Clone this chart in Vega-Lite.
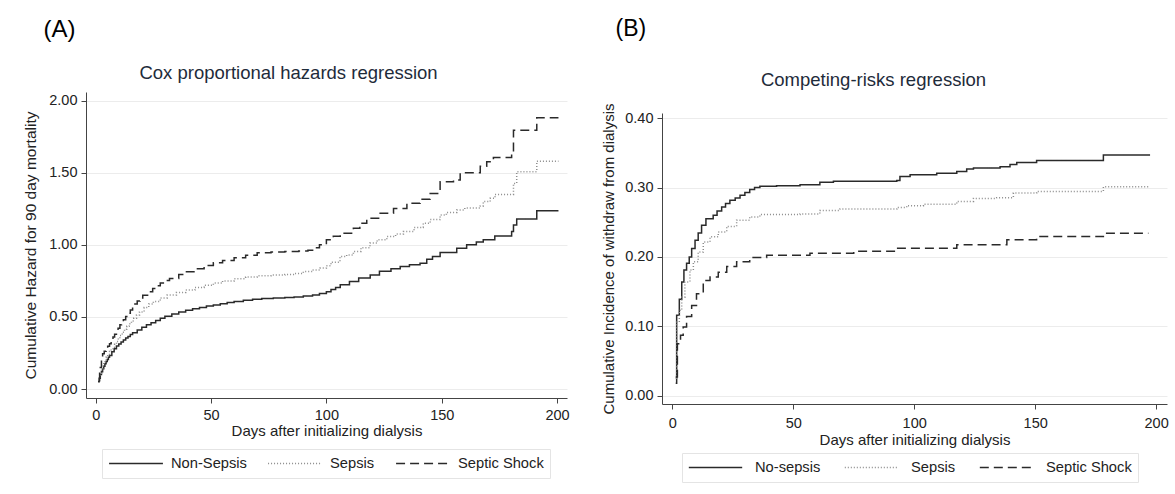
{
  "$schema": "https://vega.github.io/schema/vega-lite/v6.json",
  "autosize": {"type": "none"},
  "padding": {"left": 86, "top": 92, "right": 1089, "bottom": 402},
  "background": "white",
  "bounds": "flush",
  "spacing": 95,
  "resolve": {
    "scale": {"color": "independent", "strokeDash": "independent", "x": "independent", "y": "independent"},
    "legend": {"color": "independent", "strokeDash": "independent"}
  },
  "config": {
    "font": "Liberation Sans",
    "view": {"stroke": null},
    "axis": {
      "labelFont": "Liberation Sans",
      "titleFont": "Liberation Sans",
      "labelColor": "#222222",
      "titleColor": "#222222",
      "tickColor": "#444444",
      "domainColor": "#444444",
      "titleFontWeight": "normal",
      "labelFontSize": 14.5,
      "titleFontSize": 15
    }
  },
  "datasets": {
    "cox": [
      {"group": "Non-Sepsis", "day": 1, "value": 0.05},
      {"group": "Non-Sepsis", "day": 1.5, "value": 0.075},
      {"group": "Non-Sepsis", "day": 2, "value": 0.1},
      {"group": "Non-Sepsis", "day": 2.5, "value": 0.12},
      {"group": "Non-Sepsis", "day": 3, "value": 0.14},
      {"group": "Non-Sepsis", "day": 3.5, "value": 0.158},
      {"group": "Non-Sepsis", "day": 4, "value": 0.175},
      {"group": "Non-Sepsis", "day": 4.5, "value": 0.19},
      {"group": "Non-Sepsis", "day": 5, "value": 0.205},
      {"group": "Non-Sepsis", "day": 5.5, "value": 0.22},
      {"group": "Non-Sepsis", "day": 6, "value": 0.233},
      {"group": "Non-Sepsis", "day": 7, "value": 0.258},
      {"group": "Non-Sepsis", "day": 8, "value": 0.28},
      {"group": "Non-Sepsis", "day": 9, "value": 0.298},
      {"group": "Non-Sepsis", "day": 10, "value": 0.312},
      {"group": "Non-Sepsis", "day": 11, "value": 0.326},
      {"group": "Non-Sepsis", "day": 12, "value": 0.34},
      {"group": "Non-Sepsis", "day": 13, "value": 0.353},
      {"group": "Non-Sepsis", "day": 14, "value": 0.365},
      {"group": "Non-Sepsis", "day": 15, "value": 0.378},
      {"group": "Non-Sepsis", "day": 16, "value": 0.39},
      {"group": "Non-Sepsis", "day": 18, "value": 0.41},
      {"group": "Non-Sepsis", "day": 20, "value": 0.428},
      {"group": "Non-Sepsis", "day": 22, "value": 0.446},
      {"group": "Non-Sepsis", "day": 24, "value": 0.46},
      {"group": "Non-Sepsis", "day": 26, "value": 0.475},
      {"group": "Non-Sepsis", "day": 28, "value": 0.49},
      {"group": "Non-Sepsis", "day": 30, "value": 0.505},
      {"group": "Non-Sepsis", "day": 33, "value": 0.52},
      {"group": "Non-Sepsis", "day": 36, "value": 0.535},
      {"group": "Non-Sepsis", "day": 39, "value": 0.547},
      {"group": "Non-Sepsis", "day": 42, "value": 0.557},
      {"group": "Non-Sepsis", "day": 45, "value": 0.566},
      {"group": "Non-Sepsis", "day": 48, "value": 0.575},
      {"group": "Non-Sepsis", "day": 51, "value": 0.583},
      {"group": "Non-Sepsis", "day": 54, "value": 0.592},
      {"group": "Non-Sepsis", "day": 57, "value": 0.6},
      {"group": "Non-Sepsis", "day": 60, "value": 0.607},
      {"group": "Non-Sepsis", "day": 64, "value": 0.615},
      {"group": "Non-Sepsis", "day": 68, "value": 0.622},
      {"group": "Non-Sepsis", "day": 72, "value": 0.628},
      {"group": "Non-Sepsis", "day": 77, "value": 0.631},
      {"group": "Non-Sepsis", "day": 82, "value": 0.635},
      {"group": "Non-Sepsis", "day": 86, "value": 0.638},
      {"group": "Non-Sepsis", "day": 90, "value": 0.645},
      {"group": "Non-Sepsis", "day": 94, "value": 0.652},
      {"group": "Non-Sepsis", "day": 97, "value": 0.662},
      {"group": "Non-Sepsis", "day": 100, "value": 0.675},
      {"group": "Non-Sepsis", "day": 102, "value": 0.69},
      {"group": "Non-Sepsis", "day": 104, "value": 0.705},
      {"group": "Non-Sepsis", "day": 106, "value": 0.724},
      {"group": "Non-Sepsis", "day": 110, "value": 0.745},
      {"group": "Non-Sepsis", "day": 114, "value": 0.77},
      {"group": "Non-Sepsis", "day": 119, "value": 0.79},
      {"group": "Non-Sepsis", "day": 123, "value": 0.816},
      {"group": "Non-Sepsis", "day": 128, "value": 0.835},
      {"group": "Non-Sepsis", "day": 132, "value": 0.85},
      {"group": "Non-Sepsis", "day": 136, "value": 0.862},
      {"group": "Non-Sepsis", "day": 140.6, "value": 0.873},
      {"group": "Non-Sepsis", "day": 143.5, "value": 0.9},
      {"group": "Non-Sepsis", "day": 146, "value": 0.92},
      {"group": "Non-Sepsis", "day": 149.3, "value": 0.947},
      {"group": "Non-Sepsis", "day": 156.5, "value": 0.977},
      {"group": "Non-Sepsis", "day": 160.8, "value": 1.0},
      {"group": "Non-Sepsis", "day": 165, "value": 1.02},
      {"group": "Non-Sepsis", "day": 168, "value": 1.035},
      {"group": "Non-Sepsis", "day": 173, "value": 1.062},
      {"group": "Non-Sepsis", "day": 180.3, "value": 1.092},
      {"group": "Non-Sepsis", "day": 181.1, "value": 1.138},
      {"group": "Non-Sepsis", "day": 182.5, "value": 1.18},
      {"group": "Non-Sepsis", "day": 191.2, "value": 1.237},
      {"group": "Non-Sepsis", "day": 200.6, "value": 1.237},
      {"group": "Sepsis", "day": 1.5, "value": 0.08},
      {"group": "Sepsis", "day": 2, "value": 0.11},
      {"group": "Sepsis", "day": 2.5, "value": 0.14},
      {"group": "Sepsis", "day": 3, "value": 0.16},
      {"group": "Sepsis", "day": 3.5, "value": 0.18},
      {"group": "Sepsis", "day": 4, "value": 0.2},
      {"group": "Sepsis", "day": 4.5, "value": 0.221},
      {"group": "Sepsis", "day": 5.2, "value": 0.24},
      {"group": "Sepsis", "day": 6, "value": 0.26},
      {"group": "Sepsis", "day": 6.7, "value": 0.275},
      {"group": "Sepsis", "day": 7.5, "value": 0.29},
      {"group": "Sepsis", "day": 8.2, "value": 0.31},
      {"group": "Sepsis", "day": 9, "value": 0.33},
      {"group": "Sepsis", "day": 9.8, "value": 0.352},
      {"group": "Sepsis", "day": 10.5, "value": 0.372},
      {"group": "Sepsis", "day": 11.5, "value": 0.394},
      {"group": "Sepsis", "day": 12.5, "value": 0.415},
      {"group": "Sepsis", "day": 13.5, "value": 0.435},
      {"group": "Sepsis", "day": 14.5, "value": 0.453},
      {"group": "Sepsis", "day": 15.5, "value": 0.472},
      {"group": "Sepsis", "day": 16.5, "value": 0.49},
      {"group": "Sepsis", "day": 17.7, "value": 0.513},
      {"group": "Sepsis", "day": 19, "value": 0.535},
      {"group": "Sepsis", "day": 21, "value": 0.565},
      {"group": "Sepsis", "day": 23, "value": 0.59},
      {"group": "Sepsis", "day": 25, "value": 0.607},
      {"group": "Sepsis", "day": 28, "value": 0.632},
      {"group": "Sepsis", "day": 31, "value": 0.652},
      {"group": "Sepsis", "day": 35, "value": 0.67},
      {"group": "Sepsis", "day": 39, "value": 0.686},
      {"group": "Sepsis", "day": 43, "value": 0.705},
      {"group": "Sepsis", "day": 47, "value": 0.72},
      {"group": "Sepsis", "day": 51, "value": 0.735},
      {"group": "Sepsis", "day": 55, "value": 0.75},
      {"group": "Sepsis", "day": 60, "value": 0.765},
      {"group": "Sepsis", "day": 65, "value": 0.777},
      {"group": "Sepsis", "day": 70, "value": 0.785},
      {"group": "Sepsis", "day": 76, "value": 0.79},
      {"group": "Sepsis", "day": 82, "value": 0.795},
      {"group": "Sepsis", "day": 86, "value": 0.802},
      {"group": "Sepsis", "day": 90, "value": 0.815},
      {"group": "Sepsis", "day": 94, "value": 0.826},
      {"group": "Sepsis", "day": 97.3, "value": 0.839},
      {"group": "Sepsis", "day": 100, "value": 0.855},
      {"group": "Sepsis", "day": 102, "value": 0.88},
      {"group": "Sepsis", "day": 105.9, "value": 0.919},
      {"group": "Sepsis", "day": 108.8, "value": 0.93},
      {"group": "Sepsis", "day": 111.7, "value": 0.954},
      {"group": "Sepsis", "day": 115, "value": 0.98},
      {"group": "Sepsis", "day": 118.9, "value": 1.012},
      {"group": "Sepsis", "day": 122, "value": 1.035},
      {"group": "Sepsis", "day": 126.2, "value": 1.058},
      {"group": "Sepsis", "day": 130, "value": 1.075},
      {"group": "Sepsis", "day": 133.4, "value": 1.092},
      {"group": "Sepsis", "day": 138, "value": 1.12},
      {"group": "Sepsis", "day": 142, "value": 1.15},
      {"group": "Sepsis", "day": 145, "value": 1.175},
      {"group": "Sepsis", "day": 149.3, "value": 1.207},
      {"group": "Sepsis", "day": 152, "value": 1.225},
      {"group": "Sepsis", "day": 156.5, "value": 1.242},
      {"group": "Sepsis", "day": 160, "value": 1.255},
      {"group": "Sepsis", "day": 166.7, "value": 1.27},
      {"group": "Sepsis", "day": 168, "value": 1.3},
      {"group": "Sepsis", "day": 171, "value": 1.323},
      {"group": "Sepsis", "day": 173.1, "value": 1.35},
      {"group": "Sepsis", "day": 180.3, "value": 1.35},
      {"group": "Sepsis", "day": 181.1, "value": 1.426},
      {"group": "Sepsis", "day": 182.5, "value": 1.507},
      {"group": "Sepsis", "day": 191.2, "value": 1.58},
      {"group": "Sepsis", "day": 200.6, "value": 1.58},
      {"group": "Septic Shock", "day": 1.3, "value": 0.058},
      {"group": "Septic Shock", "day": 1.7, "value": 0.11},
      {"group": "Septic Shock", "day": 2, "value": 0.15},
      {"group": "Septic Shock", "day": 2.5, "value": 0.2},
      {"group": "Septic Shock", "day": 3, "value": 0.244},
      {"group": "Septic Shock", "day": 3.7, "value": 0.262},
      {"group": "Septic Shock", "day": 4.5, "value": 0.28},
      {"group": "Septic Shock", "day": 5.2, "value": 0.297},
      {"group": "Septic Shock", "day": 6, "value": 0.314},
      {"group": "Septic Shock", "day": 6.7, "value": 0.337},
      {"group": "Septic Shock", "day": 7.5, "value": 0.36},
      {"group": "Septic Shock", "day": 8.2, "value": 0.38},
      {"group": "Septic Shock", "day": 9, "value": 0.4},
      {"group": "Septic Shock", "day": 9.7, "value": 0.422},
      {"group": "Septic Shock", "day": 10.5, "value": 0.445},
      {"group": "Septic Shock", "day": 11.2, "value": 0.462},
      {"group": "Septic Shock", "day": 12, "value": 0.48},
      {"group": "Septic Shock", "day": 13, "value": 0.503},
      {"group": "Septic Shock", "day": 14, "value": 0.525},
      {"group": "Septic Shock", "day": 15, "value": 0.548},
      {"group": "Septic Shock", "day": 16, "value": 0.57},
      {"group": "Septic Shock", "day": 17, "value": 0.59},
      {"group": "Septic Shock", "day": 18, "value": 0.61},
      {"group": "Septic Shock", "day": 19.2, "value": 0.632},
      {"group": "Septic Shock", "day": 20.4, "value": 0.651},
      {"group": "Septic Shock", "day": 22.5, "value": 0.675},
      {"group": "Septic Shock", "day": 24.7, "value": 0.698},
      {"group": "Septic Shock", "day": 26.3, "value": 0.717},
      {"group": "Septic Shock", "day": 28, "value": 0.735},
      {"group": "Septic Shock", "day": 30, "value": 0.752},
      {"group": "Septic Shock", "day": 32, "value": 0.767},
      {"group": "Septic Shock", "day": 36, "value": 0.795},
      {"group": "Septic Shock", "day": 39, "value": 0.814},
      {"group": "Septic Shock", "day": 43, "value": 0.835},
      {"group": "Septic Shock", "day": 47, "value": 0.857},
      {"group": "Septic Shock", "day": 51, "value": 0.875},
      {"group": "Septic Shock", "day": 55, "value": 0.892},
      {"group": "Septic Shock", "day": 60, "value": 0.91},
      {"group": "Septic Shock", "day": 65, "value": 0.928},
      {"group": "Septic Shock", "day": 70, "value": 0.945},
      {"group": "Septic Shock", "day": 76, "value": 0.95},
      {"group": "Septic Shock", "day": 82, "value": 0.953},
      {"group": "Septic Shock", "day": 88, "value": 0.957},
      {"group": "Septic Shock", "day": 92, "value": 0.962},
      {"group": "Septic Shock", "day": 95, "value": 0.98},
      {"group": "Septic Shock", "day": 97, "value": 1.0},
      {"group": "Septic Shock", "day": 100, "value": 1.035},
      {"group": "Septic Shock", "day": 103, "value": 1.06},
      {"group": "Septic Shock", "day": 106, "value": 1.08},
      {"group": "Septic Shock", "day": 111.7, "value": 1.115},
      {"group": "Septic Shock", "day": 114.5, "value": 1.15},
      {"group": "Septic Shock", "day": 117.5, "value": 1.184},
      {"group": "Septic Shock", "day": 123.3, "value": 1.219},
      {"group": "Septic Shock", "day": 129.1, "value": 1.253},
      {"group": "Septic Shock", "day": 134.9, "value": 1.288},
      {"group": "Septic Shock", "day": 140.6, "value": 1.316},
      {"group": "Septic Shock", "day": 145, "value": 1.357},
      {"group": "Septic Shock", "day": 149.3, "value": 1.438},
      {"group": "Septic Shock", "day": 155.1, "value": 1.449},
      {"group": "Septic Shock", "day": 158, "value": 1.5},
      {"group": "Septic Shock", "day": 166.7, "value": 1.546},
      {"group": "Septic Shock", "day": 169.5, "value": 1.576},
      {"group": "Septic Shock", "day": 172.4, "value": 1.606},
      {"group": "Septic Shock", "day": 180.3, "value": 1.645},
      {"group": "Septic Shock", "day": 181.1, "value": 1.795},
      {"group": "Septic Shock", "day": 191.2, "value": 1.882},
      {"group": "Septic Shock", "day": 200.6, "value": 1.882}
    ],
    "crr": [
      {"group": "No-sepsis", "day": 1.4, "value": 0.018},
      {"group": "No-sepsis", "day": 1.8, "value": 0.116},
      {"group": "No-sepsis", "day": 2.9, "value": 0.139},
      {"group": "No-sepsis", "day": 3.9, "value": 0.164},
      {"group": "No-sepsis", "day": 4.8, "value": 0.181},
      {"group": "No-sepsis", "day": 5.9, "value": 0.191},
      {"group": "No-sepsis", "day": 7, "value": 0.2},
      {"group": "No-sepsis", "day": 8, "value": 0.212},
      {"group": "No-sepsis", "day": 9.4, "value": 0.224},
      {"group": "No-sepsis", "day": 10.7, "value": 0.2345},
      {"group": "No-sepsis", "day": 12.1, "value": 0.2456},
      {"group": "No-sepsis", "day": 13.9, "value": 0.255},
      {"group": "No-sepsis", "day": 16.9, "value": 0.26},
      {"group": "No-sepsis", "day": 18.5, "value": 0.266},
      {"group": "No-sepsis", "day": 20.4, "value": 0.272},
      {"group": "No-sepsis", "day": 22, "value": 0.277},
      {"group": "No-sepsis", "day": 23.8, "value": 0.2815},
      {"group": "No-sepsis", "day": 26, "value": 0.285},
      {"group": "No-sepsis", "day": 28, "value": 0.289},
      {"group": "No-sepsis", "day": 30, "value": 0.293},
      {"group": "No-sepsis", "day": 32, "value": 0.297},
      {"group": "No-sepsis", "day": 34, "value": 0.3},
      {"group": "No-sepsis", "day": 36.2, "value": 0.3017},
      {"group": "No-sepsis", "day": 43.1, "value": 0.3026},
      {"group": "No-sepsis", "day": 52.8, "value": 0.304},
      {"group": "No-sepsis", "day": 61, "value": 0.3075},
      {"group": "No-sepsis", "day": 66.6, "value": 0.309},
      {"group": "No-sepsis", "day": 92.8, "value": 0.31},
      {"group": "No-sepsis", "day": 94.1, "value": 0.316},
      {"group": "No-sepsis", "day": 98.3, "value": 0.3185},
      {"group": "No-sepsis", "day": 109.3, "value": 0.3204},
      {"group": "No-sepsis", "day": 117.6, "value": 0.323},
      {"group": "No-sepsis", "day": 121.7, "value": 0.3266},
      {"group": "No-sepsis", "day": 124.5, "value": 0.328},
      {"group": "No-sepsis", "day": 135.5, "value": 0.33},
      {"group": "No-sepsis", "day": 139.6, "value": 0.333},
      {"group": "No-sepsis", "day": 142.4, "value": 0.336},
      {"group": "No-sepsis", "day": 150.6, "value": 0.339},
      {"group": "No-sepsis", "day": 178.2, "value": 0.347},
      {"group": "No-sepsis", "day": 197.5, "value": 0.347},
      {"group": "Sepsis", "day": 1.4, "value": 0.025},
      {"group": "Sepsis", "day": 1.8, "value": 0.106},
      {"group": "Sepsis", "day": 2.9, "value": 0.123},
      {"group": "Sepsis", "day": 3.9, "value": 0.142},
      {"group": "Sepsis", "day": 5.2, "value": 0.164},
      {"group": "Sepsis", "day": 7.3, "value": 0.181},
      {"group": "Sepsis", "day": 8.7, "value": 0.193},
      {"group": "Sepsis", "day": 10.7, "value": 0.207},
      {"group": "Sepsis", "day": 12.8, "value": 0.2216},
      {"group": "Sepsis", "day": 15.6, "value": 0.229},
      {"group": "Sepsis", "day": 19, "value": 0.236},
      {"group": "Sepsis", "day": 22.5, "value": 0.244},
      {"group": "Sepsis", "day": 26.6, "value": 0.253},
      {"group": "Sepsis", "day": 32, "value": 0.2576},
      {"group": "Sepsis", "day": 36.2, "value": 0.261},
      {"group": "Sepsis", "day": 47, "value": 0.261},
      {"group": "Sepsis", "day": 52.8, "value": 0.262},
      {"group": "Sepsis", "day": 61, "value": 0.267},
      {"group": "Sepsis", "day": 69.3, "value": 0.269},
      {"group": "Sepsis", "day": 92.8, "value": 0.2713},
      {"group": "Sepsis", "day": 96.9, "value": 0.2738},
      {"group": "Sepsis", "day": 103.8, "value": 0.276},
      {"group": "Sepsis", "day": 117.6, "value": 0.28},
      {"group": "Sepsis", "day": 124.5, "value": 0.2843},
      {"group": "Sepsis", "day": 134.1, "value": 0.2853},
      {"group": "Sepsis", "day": 141, "value": 0.292},
      {"group": "Sepsis", "day": 150.6, "value": 0.2944},
      {"group": "Sepsis", "day": 178.2, "value": 0.301},
      {"group": "Sepsis", "day": 197.5, "value": 0.301},
      {"group": "Septic Shock", "day": 1.4, "value": 0.027},
      {"group": "Septic Shock", "day": 2.1, "value": 0.075},
      {"group": "Septic Shock", "day": 3.4, "value": 0.087},
      {"group": "Septic Shock", "day": 4.5, "value": 0.099},
      {"group": "Septic Shock", "day": 5.9, "value": 0.114},
      {"group": "Septic Shock", "day": 8, "value": 0.13},
      {"group": "Septic Shock", "day": 10, "value": 0.147},
      {"group": "Septic Shock", "day": 12.8, "value": 0.166},
      {"group": "Septic Shock", "day": 15.6, "value": 0.171},
      {"group": "Septic Shock", "day": 19, "value": 0.178},
      {"group": "Septic Shock", "day": 22.5, "value": 0.186},
      {"group": "Septic Shock", "day": 26.6, "value": 0.193},
      {"group": "Septic Shock", "day": 32, "value": 0.199},
      {"group": "Septic Shock", "day": 39, "value": 0.2024},
      {"group": "Septic Shock", "day": 56.9, "value": 0.2054},
      {"group": "Septic Shock", "day": 75, "value": 0.208},
      {"group": "Septic Shock", "day": 92.8, "value": 0.2126},
      {"group": "Septic Shock", "day": 117.6, "value": 0.2174},
      {"group": "Septic Shock", "day": 138.3, "value": 0.2246},
      {"group": "Septic Shock", "day": 150.6, "value": 0.2294},
      {"group": "Septic Shock", "day": 178.2, "value": 0.2342},
      {"group": "Septic Shock", "day": 196.8, "value": 0.2342}
    ]
  },
  "hconcat": [
    {
      "width": 481,
      "height": 306,
      "data": {"name": "cox"},
      "resolve": {"axis": {"x": "independent", "y": "independent"}},
      "layer": [
        {
          "mark": {"type": "line", "interpolate": "step-after", "strokeWidth": 1.5},
          "encoding": {
            "x": {
              "field": "day", "type": "quantitative",
              "scale": {"domain": [-4.2, 204.3], "nice": false, "zero": false},
              "axis": {"orient": "bottom", "values": [0, 50, 100, 150, 200], "grid": false, "tickSize": 5, "labelPadding": 5, "title": "Days after initializing dialysis", "titlePadding": 2}
            },
            "y": {
              "field": "value", "type": "quantitative",
              "scale": {"domain": [-0.0624, 2.0603], "nice": false, "zero": false},
              "axis": {"orient": "left", "values": [0, 0.5, 1, 1.5, 2], "format": ".2f", "grid": true, "gridColor": "#ececec", "gridWidth": 1, "tickSize": 5, "labelPadding": 4, "title": "Cumulative Hazard for 90 day mortality", "titleFontSize": 15.5, "titlePadding": 10}
            },
            "strokeDash": {
              "field": "group", "type": "nominal",
              "scale": {"domain": ["Non-Sepsis", "Sepsis", "Septic Shock"], "range": [[1, 0], [1, 2], [9, 5]]},
              "legend": {"orient": "none", "legendX": 16, "legendY": 357, "direction": "horizontal", "title": null, "symbolType": "stroke", "symbolSize": 2900, "symbolStrokeWidth": 1.3, "clipHeight": 17, "labelFontSize": 14.7, "labelFont": "Liberation Sans", "labelColor": "#222222", "labelOffset": 7, "columnPadding": 20, "padding": 6, "strokeColor": "#e4e4e4", "fillColor": "white"}
            },
            "color": {
              "field": "group", "type": "nominal",
              "scale": {"domain": ["Non-Sepsis", "Sepsis", "Septic Shock"], "range": ["#2a2a2a", "#8c8c8c", "#2a2a2a"]},
              "legend": {"orient": "none", "legendX": 16, "legendY": 357, "direction": "horizontal", "title": null, "symbolType": "stroke", "symbolSize": 2900, "symbolStrokeWidth": 1.3, "clipHeight": 17, "labelFontSize": 14.7, "labelFont": "Liberation Sans", "labelColor": "#222222", "labelOffset": 7, "columnPadding": 20, "padding": 6, "strokeColor": "#e4e4e4", "fillColor": "white"}
            }
          }
        },
        {
          "transform": [{"filter": "false"}],
          "mark": "line",
          "encoding": {
            "x": {
              "field": "day", "type": "quantitative",
              "axis": {"orient": "top", "title": "Cox proportional hazards regression", "labels": false, "ticks": false, "domain": false, "grid": false, "titleFontSize": 18.5, "titleColor": "#1e2b3a", "titleX": 202, "titleY": -13.5, "titleAlign": "center", "titleBaseline": "alphabetic"}
            },
            "y": {
              "field": "value", "type": "quantitative",
              "axis": {"orient": "right", "title": "(A)", "titleAngle": 0, "labels": false, "ticks": false, "domain": false, "grid": false, "titleFontSize": 24, "titleColor": "#000000", "titleX": -524, "titleY": -56, "titleAlign": "left", "titleBaseline": "alphabetic"}
            }
          }
        }
      ]
    },
    {
      "width": 505,
      "height": 312,
      "data": {"name": "crr"},
      "resolve": {"axis": {"x": "independent", "y": "independent"}},
      "layer": [
        {
          "mark": {"type": "line", "interpolate": "step-after", "strokeWidth": 1.5},
          "encoding": {
            "x": {
              "field": "day", "type": "quantitative",
              "scale": {"domain": [-4.26, 204.5], "nice": false, "zero": false},
              "axis": {"orient": "bottom", "values": [0, 50, 100, 150, 200], "grid": false, "tickSize": 5, "labelPadding": 7, "title": "Days after initializing dialysis", "titlePadding": 3}
            },
            "y": {
              "field": "value", "type": "quantitative",
              "scale": {"domain": [-0.012, 0.4074], "nice": false, "zero": false, "range": [312, 21]},
              "axis": {"orient": "left", "values": [0, 0.1, 0.2, 0.3, 0.4], "format": ".2f", "grid": true, "gridColor": "#ececec", "gridWidth": 1, "tickSize": 5, "labelPadding": 4, "title": "Cumulative Incidence of withdraw from dialysis", "titleFontSize": 15, "titlePadding": 8}
            },
            "strokeDash": {
              "field": "group", "type": "nominal",
              "scale": {"domain": ["No-sepsis", "Sepsis", "Septic Shock"], "range": [[1, 0], [1, 2], [9, 5]]},
              "legend": {"orient": "none", "legendX": 20, "legendY": 361, "direction": "horizontal", "title": null, "symbolType": "stroke", "symbolSize": 2850, "symbolStrokeWidth": 1.3, "clipHeight": 17, "labelFontSize": 14.7, "labelFont": "Liberation Sans", "labelColor": "#222222", "labelOffset": 12, "columnPadding": 23, "padding": 6, "strokeColor": "#e4e4e4", "fillColor": "white"}
            },
            "color": {
              "field": "group", "type": "nominal",
              "scale": {"domain": ["No-sepsis", "Sepsis", "Septic Shock"], "range": ["#2a2a2a", "#8c8c8c", "#2a2a2a"]},
              "legend": {"orient": "none", "legendX": 20, "legendY": 361, "direction": "horizontal", "title": null, "symbolType": "stroke", "symbolSize": 2850, "symbolStrokeWidth": 1.3, "clipHeight": 17, "labelFontSize": 14.7, "labelFont": "Liberation Sans", "labelColor": "#222222", "labelOffset": 12, "columnPadding": 23, "padding": 6, "strokeColor": "#e4e4e4", "fillColor": "white"}
            }
          }
        },
        {
          "transform": [{"filter": "false"}],
          "mark": "line",
          "encoding": {
            "x": {
              "field": "day", "type": "quantitative",
              "axis": {"orient": "top", "title": "Competing-risks regression", "labels": false, "ticks": false, "domain": false, "grid": false, "titleFontSize": 18.5, "titleColor": "#1e2b3a", "titleX": 211, "titleY": -7, "titleAlign": "center", "titleBaseline": "alphabetic"}
            },
            "y": {
              "field": "value", "type": "quantitative",
              "axis": {"orient": "right", "title": "(B)", "titleAngle": 0, "labels": false, "ticks": false, "domain": false, "grid": false, "titleFontSize": 23, "titleColor": "#000000", "titleX": -552, "titleY": -57, "titleAlign": "left", "titleBaseline": "alphabetic"}
            }
          }
        }
      ]
    }
  ]
}
